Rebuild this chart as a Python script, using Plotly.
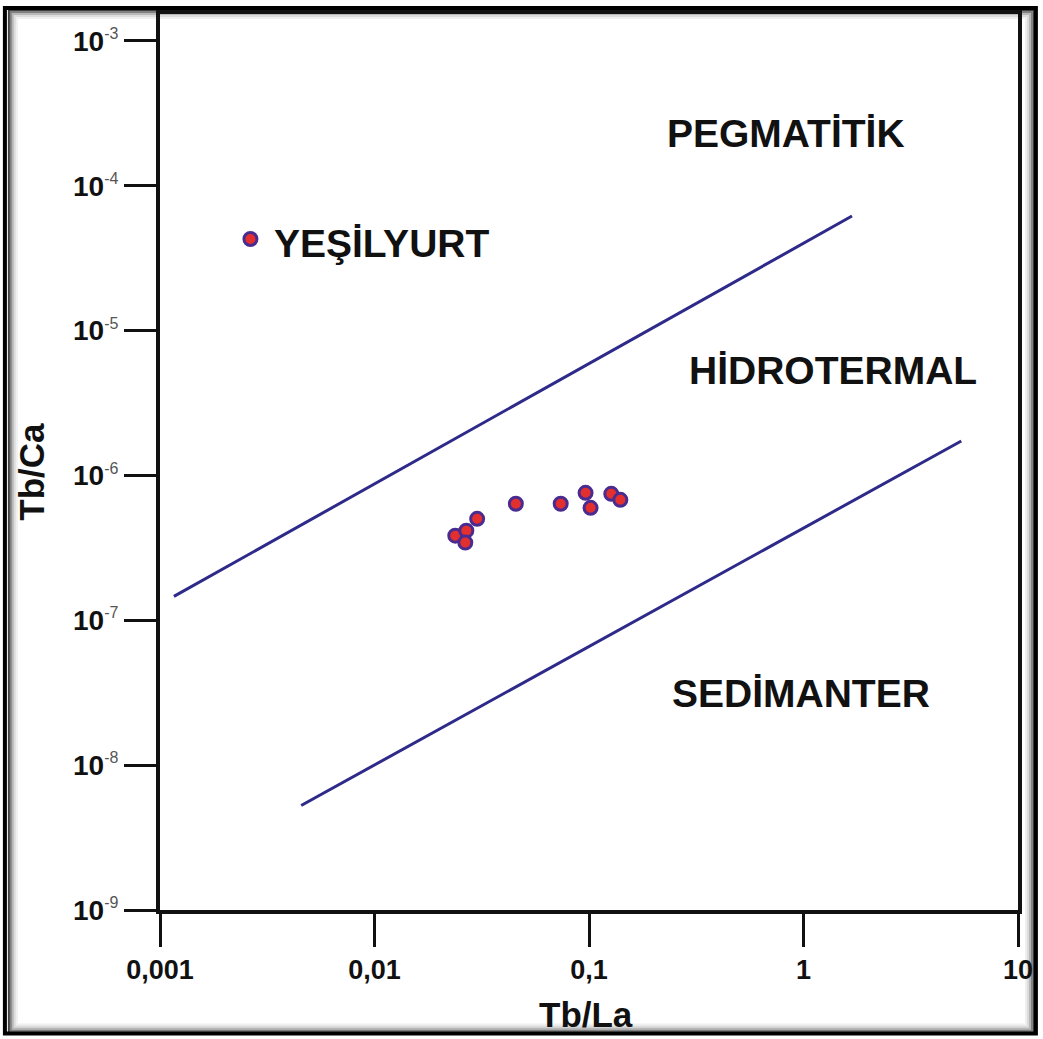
import plotly.graph_objects as go

# Data
sample_tb_la = [0.0238, 0.0268, 0.0265, 0.0301, 0.0456, 0.0738, 0.0964, 0.1017, 0.127, 0.140]
sample_tb_ca = [3.84e-7, 4.16e-7, 3.44e-7, 5.02e-7, 6.38e-7, 6.38e-7, 7.59e-7, 5.98e-7, 7.47e-7, 6.79e-7]

legend_tb_la = [0.00264]
legend_tb_ca = [4.29e-5]

upper_line_x = [0.001161, 1.683]
upper_line_y = [1.462e-7, 6.18e-5]
lower_line_x = [0.00455, 5.44]
lower_line_y = [5.27e-9, 1.73e-6]

x_tickvals = [0.001, 0.01, 0.1, 1, 10]
x_ticktext = ["0,001", "0,01", "0,1", "1", "10"]
y_exponents = [-3, -4, -5, -6, -7, -8, -9]

W, H = 1043, 1039
ML, MR, MT, MB = 160, 20, 10, 129
PW, PH = W - ML - MR, H - MT - MB

LINE_COLOR = "#2e2a8a"
MARKER_FILL = "#e3302f"
MARKER_EDGE = "#4a2c90"
FONT = "Liberation Sans, Arial, sans-serif"

fig = go.Figure()
fig.add_trace(go.Scatter(x=upper_line_x, y=upper_line_y, mode="lines",
                         line=dict(color=LINE_COLOR, width=3), hoverinfo="skip"))
fig.add_trace(go.Scatter(x=lower_line_x, y=lower_line_y, mode="lines",
                         line=dict(color=LINE_COLOR, width=3), hoverinfo="skip"))
fig.add_trace(go.Scatter(x=sample_tb_la, y=sample_tb_ca, mode="markers",
                         marker=dict(size=13, color=MARKER_FILL,
                                     line=dict(color=MARKER_EDGE, width=3))))
fig.add_trace(go.Scatter(x=legend_tb_la, y=legend_tb_ca, mode="markers",
                         marker=dict(size=13, color=MARKER_FILL,
                                     line=dict(color=MARKER_EDGE, width=3))))

y_tickvals = [10.0 ** e for e in y_exponents]
y_ticktext = ["<b>10</b><sup><span style='color:#555;font-weight:normal;font-size:16px'>%d</span></sup>" % e
              for e in y_exponents]

fig.update_xaxes(type="log", range=[-3, 1], tickvals=x_tickvals,
                 ticktext=["<b>%s</b>" % t for t in x_ticktext],
                 tickfont=dict(family=FONT, size=27, color="#111"),
                 ticks="outside", ticklen=33, tickwidth=3, tickcolor="#111",
                 showline=True, linewidth=4, linecolor="#111", mirror=True,
                 showgrid=False, zeroline=False)
fig.update_yaxes(type="log", range=[-9, -2.814], tickvals=y_tickvals, ticktext=y_ticktext,
                 tickfont=dict(family=FONT, size=28, color="#111"),
                 ticks="outside", ticklen=32, tickwidth=3, tickcolor="#111",
                 showline=True, linewidth=4, linecolor="#111", mirror=True,
                 showgrid=False, zeroline=False)


def px_x(p):
    return (p - ML) / PW


def px_y(p):
    return (H - MB - p) / PH


ann = []
label_font = dict(family=FONT, size=39, color="#111")
ann.append(dict(x=-0.080, y=-3.639, xref="x", yref="y", text="<b>PEGMATİTİK</b>",
                showarrow=False, font=label_font))
ann.append(dict(x=0.138, y=-5.275, xref="x", yref="y", text="<b>HİDROTERMAL</b>",
                showarrow=False, font=label_font))
ann.append(dict(x=-0.0104, y=-7.508, xref="x", yref="y", text="<b>SEDİMANTER</b>",
                showarrow=False, font=label_font))
ann.append(dict(x=-2.476, y=-4.395, xref="x", yref="y", text="<b>YEŞİLYURT</b>",
                showarrow=False, xanchor="left", font=label_font))
ann.append(dict(x=px_x(588), y=px_y(1015), xref="paper", yref="paper", text="<b>Tb/La</b>",
                xanchor="center", yanchor="middle",
                showarrow=False, font=dict(family=FONT, size=35, color="#111")))
ann.append(dict(x=px_x(31), y=px_y(470), xref="paper", yref="paper", text="<b>Tb/Ca</b>",
                xanchor="center", yanchor="middle",
                showarrow=False, textangle=-90, font=dict(family=FONT, size=35, color="#111")))

shapes = []
# inner shadow of the outer frame
for off, col, wd in [(16, "#f0f0f0", 2), (14, "#dcdcdc", 2), (12, "#b8b8b8", 2), (10, "#808080", 2), (8, "#404040", 2)]:
    shapes.append(dict(type="rect", xref="paper", yref="paper",
                       x0=px_x(off), x1=px_x(W - off + 4), y0=px_y(H - off + 2), y1=px_y(off - 2),
                       line=dict(color=col, width=wd), fillcolor="rgba(0,0,0,0)", layer="below"))
shapes.append(dict(type="rect", xref="paper", yref="paper",
                   x0=px_x(4), x1=px_x(W - 2), y0=px_y(H - 5), y1=px_y(4),
                   line=dict(color="#000", width=4), fillcolor="rgba(0,0,0,0)"))

fig.update_layout(width=W, height=H, margin=dict(l=ML, r=MR, t=MT, b=MB),
                  paper_bgcolor="white", plot_bgcolor="white", showlegend=False,
                  annotations=ann, shapes=shapes)

fig.write_html("out.html")
